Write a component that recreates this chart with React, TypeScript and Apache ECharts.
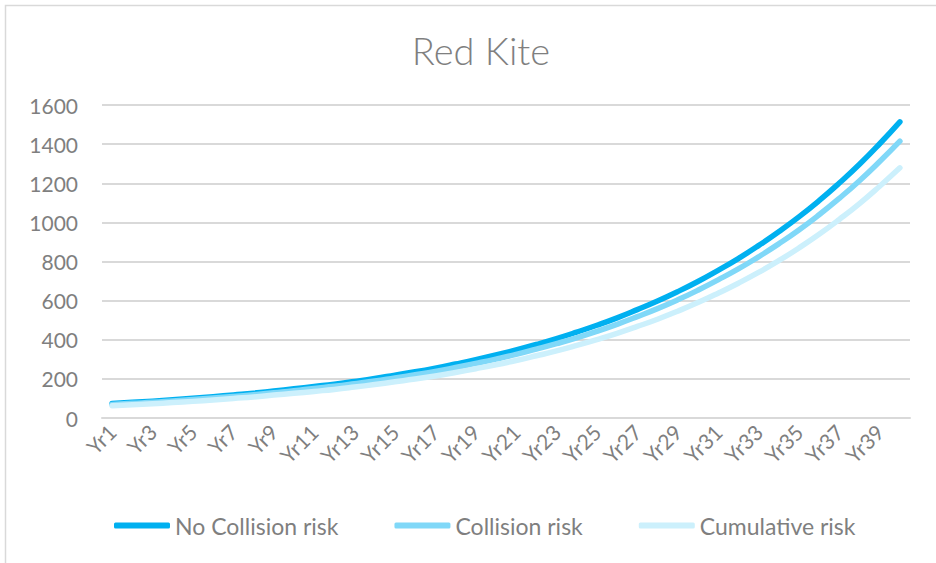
import React, { useEffect, useRef } from "react";
import * as echarts from "echarts";

// Year labels Yr1..Yr40
const years: string[] = [
  "Yr1", "Yr2", "Yr3", "Yr4", "Yr5", "Yr6", "Yr7", "Yr8", "Yr9", "Yr10",
  "Yr11", "Yr12", "Yr13", "Yr14", "Yr15", "Yr16", "Yr17", "Yr18", "Yr19", "Yr20",
  "Yr21", "Yr22", "Yr23", "Yr24", "Yr25", "Yr26", "Yr27", "Yr28", "Yr29", "Yr30",
  "Yr31", "Yr32", "Yr33", "Yr34", "Yr35", "Yr36", "Yr37", "Yr38", "Yr39", "Yr40",
];

const noCollisionRisk: number[] = [
  74, 80, 86, 93, 101, 109, 118, 127, 138, 149,
  161, 173, 187, 202, 219, 236, 255, 276, 298, 322,
  348, 376, 406, 439, 474, 512, 554, 598, 646, 698,
  755, 815, 881, 952, 1028, 1111, 1201, 1297, 1402, 1514,
];

const collisionRisk: number[] = [
  69, 75, 80, 87, 94, 102, 110, 119, 129, 139,
  151, 162, 175, 189, 205, 221, 238, 258, 279, 301,
  325, 352, 380, 410, 443, 479, 518, 559, 604, 653,
  706, 762, 824, 890, 961, 1039, 1123, 1213, 1311, 1415,
];

const cumulativeRisk: number[] = [
  63, 68, 73, 79, 85, 92, 100, 107, 117, 126,
  136, 146, 158, 171, 185, 199, 215, 233, 252, 272,
  294, 318, 343, 371, 401, 433, 468, 505, 546, 590,
  638, 689, 744, 804, 869, 939, 1015, 1096, 1185, 1279,
];

const FONT = "Lato, 'Open Sans', sans-serif";
const TEXT_GREY = "#7f7f7f";
const GRID_GREY = "#d9d9d9";

export default function App() {
  const ref = useRef<HTMLDivElement>(null);

  useEffect(() => {
    if (!ref.current) return;
    const chart = echarts.init(ref.current, null, { renderer: "svg" });

    const line = (name: string, data: number[], color: string) => ({
      name,
      type: "line",
      data,
      smooth: true,
      showSymbol: false,
      symbol: "none",
      lineStyle: { color, width: 5.5, cap: "round", join: "round" },
      itemStyle: { color },
    });

    chart.setOption({
      animation: false,
      backgroundColor: "#ffffff",
      textStyle: { fontFamily: FONT },
      title: {
        text: "Red Kite",
        left: 476,
        textAlign: "center",
        top: 26,
        textStyle: {
          fontFamily: FONT,
          fontSize: 38,
          fontWeight: 300,
          color: TEXT_GREY,
        },
      },
      graphic: [
        {
          type: "rect",
          shape: { x: 5.5, y: 5.5, width: 1000, height: 1000 },
          style: { fill: "none", stroke: GRID_GREY, lineWidth: 1.5 },
          silent: true,
        },
      ],
      legend: {
        top: 509,
        left: 109,
        icon: "roundRect",
        itemWidth: 56,
        itemHeight: 6,
        itemGap: 56,
        textStyle: {
          fontFamily: FONT,
          fontSize: 23,
          color: TEXT_GREY,
        },
        data: ["No Collision risk", "Collision risk", "Cumulative risk"],
      },
      grid: { left: 102, right: 26, top: 105, bottom: 145 },
      xAxis: {
        type: "category",
        data: years,
        boundaryGap: true,
        axisLine: { show: true, lineStyle: { color: GRID_GREY, width: 2 } },
        axisTick: { show: false },
        axisLabel: {
          interval: 1,
          rotate: 45,
          margin: 10,
          fontSize: 21,
          color: TEXT_GREY,
          fontFamily: FONT,
        },
      },
      yAxis: {
        type: "value",
        min: 0,
        max: 1600,
        interval: 200,
        axisLine: { show: false },
        axisTick: { show: false },
        splitLine: { lineStyle: { color: GRID_GREY, width: 2 } },
        axisLabel: {
          fontSize: 21,
          margin: 24,
          color: TEXT_GREY,
          fontFamily: FONT,
          formatter: (v: number) => String(v),
        },
      },
      series: [
        line("No Collision risk", noCollisionRisk, "#00b0f0"),
        line("Collision risk", collisionRisk, "#80d8f8"),
        line("Cumulative risk", cumulativeRisk, "#ccf0fc"),
      ],
    });

    return () => chart.dispose();
  }, []);

  return (
    <div
      ref={ref}
      style={{ position: "fixed", left: 0, top: 0, width: 936, height: 563 }}
    />
  );
}
